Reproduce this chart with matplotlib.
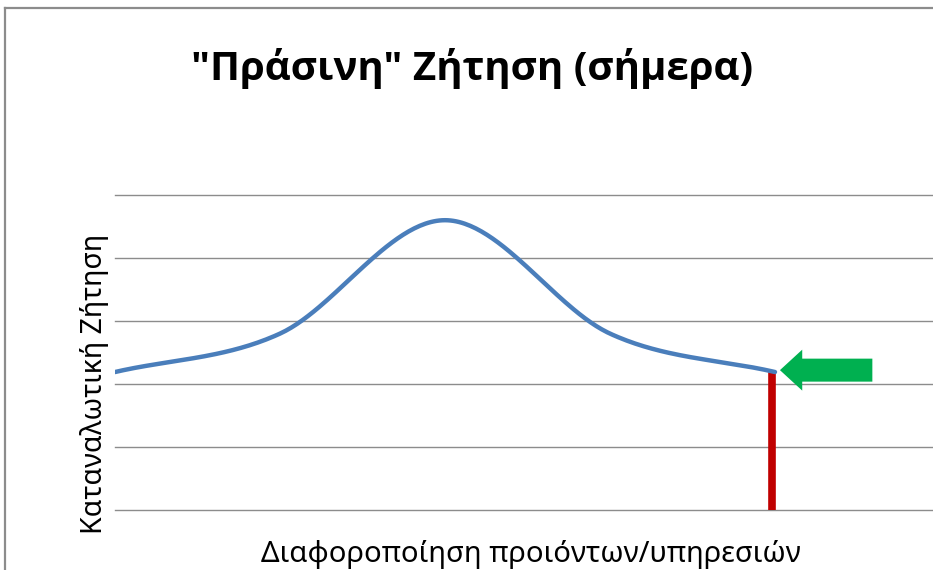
import numpy as np
import matplotlib
matplotlib.use("Agg")
import matplotlib.pyplot as plt
from matplotlib.patches import FancyArrow, Rectangle
from matplotlib.lines import Line2D

plt.rcParams['font.family'] = ['Noto Sans', 'DejaVu Sans']

# ---------------- data ----------------
title = '"Πράσινη" Ζήτηση (σήμερα)'
xlabel = 'Διαφοροποίηση προιόντων/υπηρεσιών'
ylabel = 'Καταναλωτική Ζήτηση'

categories = [0, 1, 2, 3, 4]
demand = [2.19, 2.8, 4.6, 2.8, 2.19]
grid_levels = [0, 1, 2, 3, 4, 5]

today_cat = 4            # red marker
arrow_tail = 4.59        # green arrow (category units)
arrow_tip = 4.03
arrow_level = 2.22

W, H = 933, 570


def smooth(x, y, n=60):
    # catmull-rom style smoothing, like Excel's "smoothed line"
    x = np.asarray(x, float)
    y = np.asarray(y, float)
    m = np.zeros_like(y)
    m[1:-1] = (y[2:] - y[:-2]) / 2
    m[0] = y[1] - y[0]
    m[-1] = y[-1] - y[-2]
    xs, ys = [], []
    for i in range(len(x) - 1):
        t = np.linspace(0, 1, n)
        h00 = 2*t**3 - 3*t**2 + 1
        h10 = t**3 - 2*t**2 + t
        h01 = -2*t**3 + 3*t**2
        h11 = t**3 - t**2
        xs.append(x[i] + t*(x[i+1] - x[i]))
        ys.append(h00*y[i] + h10*m[i] + h01*y[i+1] + h11*m[i+1])
    return np.concatenate(xs), np.concatenate(ys)


fig = plt.figure(figsize=(W/100, H/100), dpi=100)
fig.patch.set_facecolor('white')

# white cover on the right edge (below the border)
fig.add_artist(Rectangle((900/W, 0), 40/W, (H-12)/H, transform=fig.transFigure,
                         facecolor='white', edgecolor='none', zorder=-1))

# outer chart border: only top and left edges are visible in the screenshot
border_top = (H - 8) / H
border_left = 5 / W
fig.add_artist(Line2D([border_left, 1.1], [border_top, border_top], transform=fig.transFigure,
                      color='#8C8C8C', lw=1.6))
fig.add_artist(Line2D([border_left, border_left], [-0.1, border_top], transform=fig.transFigure,
                      color='#8C8C8C', lw=1.6))

ax = fig.add_axes([115/W, (H-510)/H, 825/W, 315/H])
ax.set_xlim(0, 5)
ax.set_ylim(0, 5)
ax.axis('off')

for g in grid_levels:
    ax.axhline(g, color='#8C8C8C', lw=1.0, zorder=1, clip_on=False)

ax.vlines(today_cat - 0.02, 0, demand[today_cat], color='#C00000', lw=5.5, zorder=2)

sx, sy = smooth(categories, demand)
ax.plot(sx, sy, color='#4A7EBB', lw=3.2, solid_capstyle='round', zorder=3)

ax.add_patch(FancyArrow(arrow_tail, arrow_level, arrow_tip - arrow_tail, 0,
                        width=0.365, head_width=0.65, head_length=0.135,
                        length_includes_head=True, color='#00B050', lw=0, zorder=4))

fig.text(472/W, (H-80)/H, title, ha='center', va='baseline',
         fontsize=29, fontweight='bold', color='black',
         family=['Open Sans', 'DejaVu Sans'])
fig.text(531/W, (H-562)/H, xlabel, ha='center', va='baseline',
         fontsize=21, color='black')
fig.text(95/W, (H-384)/H, ylabel, ha='center', va='center', rotation=90,
         fontsize=20.5, color='black')

fig.savefig('out.png', dpi=100)
